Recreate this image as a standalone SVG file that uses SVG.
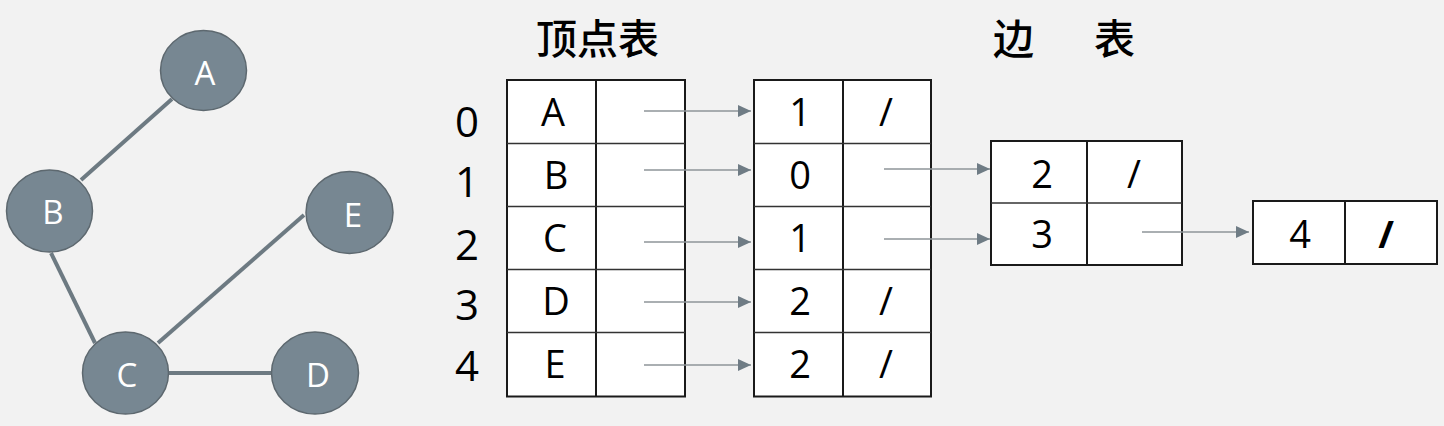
<svg xmlns="http://www.w3.org/2000/svg" width="1444" height="426" viewBox="0 0 1444 426">
<style>
.bg{fill:#f2f2f2}
.node ellipse{fill:#778792;stroke:#5d686f;stroke-width:1.5}
.node text{fill:#ffffff;font-family:"Open Sans","Noto Sans",sans-serif;font-size:33px;text-anchor:middle}
.edge{stroke:#6d7a82;stroke-width:4;fill:none}
.cell{fill:#ffffff;stroke:#1a1a1a;stroke-width:2}
.t{font-family:"Open Sans","Noto Sans","Noto Sans CJK SC",sans-serif;fill:#000;text-anchor:middle}
.v{font-size:38px}
.idx{font-size:42px}
.title{font-family:"Noto Sans CJK SC","Noto Sans",sans-serif;font-size:41px;font-weight:500;fill:#000}
.arrow{stroke:#8e9498;stroke-width:1.6;fill:none;marker-end:url(#ah)}
</style>
<defs>
<marker id="ah" markerUnits="userSpaceOnUse" markerWidth="14" markerHeight="13" refX="13" refY="6" orient="auto">
<path d="M0,0 L13,6 L0,12 Z" fill="#6f7c85"/>
</marker>
</defs>
<rect class="bg" x="0" y="0" width="1444" height="426"/>

<g id="graph-edges">
<line class="edge" x1="172" y1="99" x2="81" y2="180"/>
<line class="edge" x1="51" y1="253" x2="95" y2="343"/>
<line class="edge" x1="158" y1="343" x2="304" y2="215"/>
<line class="edge" x1="169" y1="373" x2="272" y2="373"/>
</g>

<g id="node-A" class="node"><ellipse cx="203.5" cy="70.5" rx="43" ry="40"/><text x="205" y="85">A</text></g>
<g id="node-B" class="node"><ellipse cx="49.5" cy="211" rx="43" ry="41"/><text x="53" y="224">B</text></g>
<g id="node-E" class="node"><ellipse cx="349.5" cy="212.5" rx="43.5" ry="41"/><text x="353" y="227">E</text></g>
<g id="node-C" class="node"><ellipse cx="125.5" cy="373" rx="43" ry="41"/><text x="127" y="387">C</text></g>
<g id="node-D" class="node"><ellipse cx="315" cy="373" rx="43.5" ry="41"/><text x="318" y="387">D</text></g>

<g id="titles">
<text class="title" x="536" y="54">顶点表</text>
<text class="title" y="54"><tspan x="993">边</tspan><tspan x="1094">表</tspan></text>
</g>

<g id="indices" class="t idx">
<text x="467" y="137">0</text>
<text x="467" y="197">1</text>
<text x="467" y="260">2</text>
<text x="467" y="320">3</text>
<text x="467" y="381">4</text>
</g>

<g id="vertex-table">
<rect class="cell" x="507" y="80" width="178" height="316.5"/>
<line x1="596" y1="80" x2="596" y2="396.5" stroke="#1a1a1a" stroke-width="2"/>
<g stroke="#333" stroke-width="1.5">
<line x1="507" y1="143.5" x2="685" y2="143.5"/>
<line x1="507" y1="206.5" x2="685" y2="206.5"/>
<line x1="507" y1="269.5" x2="685" y2="269.5"/>
<line x1="507" y1="332.5" x2="685" y2="332.5"/>
</g>
<g class="t v">
<text x="553" y="126">A</text>
<text x="556" y="189">B</text>
<text x="555" y="252">C</text>
<text x="556" y="315">D</text>
<text x="555" y="378">E</text>
</g>
</g>

<g id="edge-table-1">
<rect class="cell" x="754" y="80" width="177" height="316.5"/>
<line x1="843" y1="80" x2="843" y2="396.5" stroke="#1a1a1a" stroke-width="2"/>
<g stroke="#333" stroke-width="1.5">
<line x1="754" y1="143.5" x2="931" y2="143.5"/>
<line x1="754" y1="206.5" x2="931" y2="206.5"/>
<line x1="754" y1="269.5" x2="931" y2="269.5"/>
<line x1="754" y1="332.5" x2="931" y2="332.5"/>
</g>
<g class="t v">
<text x="800" y="126">1</text>
<text x="886" y="126">/</text>
<text x="800" y="189">0</text>
<text x="800" y="252">1</text>
<text x="800" y="315">2</text>
<text x="886" y="315">/</text>
<text x="800" y="378">2</text>
<text x="886" y="378">/</text>
</g>
</g>

<g id="edge-table-2">
<rect class="cell" x="991" y="141" width="191" height="124"/>
<line x1="1087" y1="141" x2="1087" y2="265" stroke="#1a1a1a" stroke-width="2"/>
<line x1="991" y1="203" x2="1182" y2="203" stroke="#333" stroke-width="1.5"/>
<g class="t v">
<text x="1042" y="188">2</text>
<text x="1134" y="188">/</text>
<text x="1042" y="248">3</text>
</g>
</g>

<g id="edge-table-3">
<rect class="cell" x="1253" y="201" width="184" height="63"/>
<line x1="1345" y1="201" x2="1345" y2="264" stroke="#1a1a1a" stroke-width="2"/>
<g class="t v">
<text x="1300" y="248">4</text>
<text x="1386" y="248" font-weight="bold">/</text>
</g>
</g>

<g id="connectors">
<line class="arrow" x1="644" y1="111" x2="751" y2="111"/>
<line class="arrow" x1="644" y1="170" x2="751" y2="170"/>
<line class="arrow" x1="644" y1="242" x2="751" y2="242"/>
<line class="arrow" x1="644" y1="302" x2="751" y2="302"/>
<line class="arrow" x1="644" y1="365" x2="751" y2="365"/>
<line class="arrow" x1="884" y1="169" x2="990" y2="169"/>
<line class="arrow" x1="884" y1="239" x2="990" y2="239"/>
<line class="arrow" x1="1142" y1="232" x2="1249" y2="232"/>
</g>
</svg>
